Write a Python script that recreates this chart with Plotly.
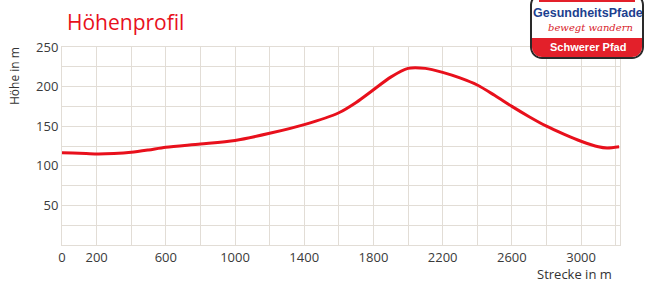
import math
import plotly.graph_objects as go

distance_m = [0, 100, 200, 300, 400, 500, 600, 800, 1000, 1200, 1400, 1600, 1700, 1800,
              1900, 2000, 2100, 2200, 2300, 2400, 2500, 2600, 2700, 2800, 2900, 3000,
              3100, 3150, 3220]
height_m = [116.5, 116, 115, 115.5, 117, 120, 123.5, 127.5, 132, 141, 152, 167, 180, 196,
            212, 223, 223, 218, 211, 202, 189, 175, 162, 150, 140, 131, 124, 122.5, 124]
x_tick_vals = [0, 200, 600, 1000, 1400, 1800, 2200, 2600, 3000]
y_tick_vals = [50, 100, 150, 200, 250]

W, H = 645, 285
L, R, T, B = 62, 620, 47, 245


def px(x):
    return (x - L) / (R - L)


def py(y):
    return (B - y) / (B - T)


fig = go.Figure()
fig.add_trace(go.Scatter(x=distance_m, y=height_m, mode="lines",
                         line=dict(color="#e8101c", width=3, shape="spline", smoothing=0.8),
                         hoverinfo="skip"))

grid = "#e2ddd6"
fig.update_layout(
    width=W, height=H,
    margin=dict(l=L, r=W - R, t=T, b=H - B),
    paper_bgcolor="white", plot_bgcolor="white",
    showlegend=False,
    font=dict(family="Open Sans, sans-serif", color="#333333", size=13),
    xaxis=dict(range=[0, 3225], tickvals=x_tick_vals, ticktext=[str(v) for v in x_tick_vals],
               showgrid=True, gridcolor=grid, gridwidth=1,
               minor=dict(tick0=0, dtick=200, showgrid=True, gridcolor=grid),
               showline=True, linecolor=grid, mirror=True, zeroline=False,
               ticks="", tickfont=dict(size=13, color="#3a3a3a")),
    yaxis=dict(range=[0, 250], tickvals=y_tick_vals,
               showgrid=True, gridcolor=grid, gridwidth=1,
               minor=dict(tick0=0, dtick=25, showgrid=True, gridcolor=grid),
               showline=True, linecolor=grid, mirror=True, zeroline=False,
               ticks="", tickfont=dict(size=13, color="#3a3a3a")),
)

annotations = [
    dict(text="Höhenprofil", x=px(65), y=py(22), xanchor="left", yanchor="middle",
         font=dict(size=21, color="#e8101c")),
    dict(text="Höhe in m", x=px(14), y=py(76), textangle=-90, xanchor="center",
         yanchor="middle", font=dict(size=12, color="#333333")),
    dict(text="Strecke in m", x=px(614), y=py(274), xanchor="right", yanchor="middle",
         font=dict(size=13, color="#333333")),
    dict(text="<b>GesundheitsPfade</b>", x=px(588), y=py(13), xanchor="center",
         yanchor="middle", font=dict(size=12.5, color="#1c3f8f", family="Liberation Sans")),
    dict(text="<i>bewegt wandern</i>", x=px(590), y=py(27), xanchor="center",
         yanchor="middle", font=dict(size=10, color="#d8242c", family="DejaVu Serif")),
    dict(text="<b>Schwerer Pfad</b>", x=px(588), y=py(47), xanchor="center",
         yanchor="middle", font=dict(size=11, color="white", family="Liberation Sans")),
]
for a in annotations:
    a.update(xref="paper", yref="paper", showarrow=False)
fig.update_layout(annotations=annotations)


def path_pts(points, close=True):
    s = "M " + " L ".join(f"{px(x):.5f},{py(y):.5f}" for x, y in points)
    return s + (" Z" if close else "")


def rounded(x0, y0, x1, y1, r, top_round=True, bottom_round=True):
    pts = []
    n = 8
    if top_round:
        for i in range(n + 1):
            a = math.pi + i * (math.pi / 2) / n
            pts.append((x0 + r + r * math.cos(a), y0 + r + r * math.sin(a)))
        for i in range(n + 1):
            a = 1.5 * math.pi + i * (math.pi / 2) / n
            pts.append((x1 - r + r * math.cos(a), y0 + r + r * math.sin(a)))
    else:
        pts += [(x0, y0), (x1, y0)]
    if bottom_round:
        for i in range(n + 1):
            a = i * (math.pi / 2) / n
            pts.append((x1 - r + r * math.cos(a), y1 - r + r * math.sin(a)))
        for i in range(n + 1):
            a = math.pi / 2 + i * (math.pi / 2) / n
            pts.append((x0 + r + r * math.cos(a), y1 - r + r * math.sin(a)))
    else:
        pts += [(x1, y1), (x0, y1)]
    return pts


x0, x1, y0, y1, r = 531, 643, -6, 58, 11
shapes = [
    dict(type="path", path=path_pts(rounded(x0, y0, x1, y1, r)),
         fillcolor="white", line=dict(color="#2a2a2a", width=2)),
    dict(type="path", path=path_pts(rounded(x0 + 1, 38, x1 - 1, y1 - 1, r - 1, top_round=False)),
         fillcolor="#e3202a", line=dict(width=0)),
    dict(type="path", path=path_pts([(x0 + 8, -6), (x1 - 8, -6), (x1 - 8, 2), (x0 + 8, 2)]),
         fillcolor="#e3202a", line=dict(width=0)),
]
for s in shapes:
    s.update(xref="paper", yref="paper", layer="above")
fig.update_layout(shapes=shapes)

fig.write_html("out.html", config={"displayModeBar": False},
               post_script="document.body.style.margin='0px';document.body.style.padding='0px';")
